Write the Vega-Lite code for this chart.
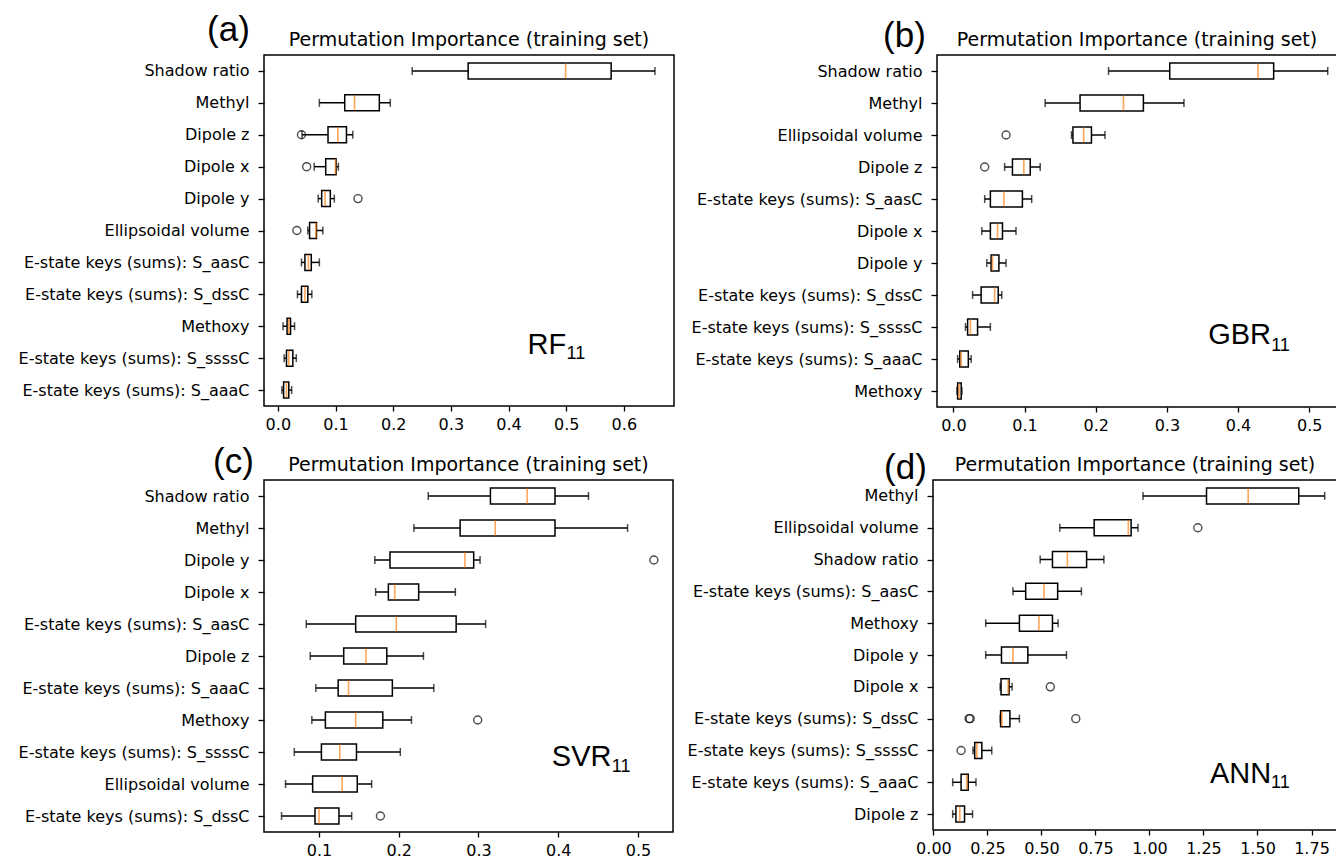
{
  "$schema": "https://vega.github.io/schema/vega-lite/v6.json",
  "padding": {"left": 17, "top": 11, "right": 0, "bottom": 0},
  "background": "white",
  "datasets": {
    "box": [
      {"model": "RF", "feature": "Shadow ratio", "lw": 0.233, "q1": 0.330, "med": 0.499, "q3": 0.578, "uw": 0.654},
      {"model": "RF", "feature": "Methyl", "lw": 0.072, "q1": 0.116, "med": 0.133, "q3": 0.176, "uw": 0.195},
      {"model": "RF", "feature": "Dipole z", "lw": 0.042, "q1": 0.087, "med": 0.104, "q3": 0.119, "uw": 0.130},
      {"model": "RF", "feature": "Dipole x", "lw": 0.063, "q1": 0.083, "med": 0.100, "q3": 0.101, "uw": 0.105},
      {"model": "RF", "feature": "Dipole y", "lw": 0.070, "q1": 0.076, "med": 0.082, "q3": 0.091, "uw": 0.098},
      {"model": "RF", "feature": "Ellipsoidal volume", "lw": 0.052, "q1": 0.055, "med": 0.066, "q3": 0.067, "uw": 0.078},
      {"model": "RF", "feature": "E-state keys (sums): S_aasC", "lw": 0.041, "q1": 0.047, "med": 0.053, "q3": 0.058, "uw": 0.072},
      {"model": "RF", "feature": "E-state keys (sums): S_dssC", "lw": 0.034, "q1": 0.041, "med": 0.047, "q3": 0.052, "uw": 0.059},
      {"model": "RF", "feature": "Methoxy", "lw": 0.009, "q1": 0.016, "med": 0.019, "q3": 0.022, "uw": 0.029},
      {"model": "RF", "feature": "E-state keys (sums): S_ssssC", "lw": 0.011, "q1": 0.015, "med": 0.019, "q3": 0.026, "uw": 0.032},
      {"model": "RF", "feature": "E-state keys (sums): S_aaaC", "lw": 0.007, "q1": 0.010, "med": 0.015, "q3": 0.019, "uw": 0.024},

      {"model": "GBR", "feature": "Shadow ratio", "lw": 0.218, "q1": 0.304, "med": 0.428, "q3": 0.450, "uw": 0.526},
      {"model": "GBR", "feature": "Methyl", "lw": 0.129, "q1": 0.178, "med": 0.239, "q3": 0.267, "uw": 0.324},
      {"model": "GBR", "feature": "Ellipsoidal volume", "lw": 0.166, "q1": 0.168, "med": 0.183, "q3": 0.194, "uw": 0.213},
      {"model": "GBR", "feature": "Dipole z", "lw": 0.072, "q1": 0.083, "med": 0.099, "q3": 0.108, "uw": 0.122},
      {"model": "GBR", "feature": "E-state keys (sums): S_aasC", "lw": 0.044, "q1": 0.052, "med": 0.071, "q3": 0.097, "uw": 0.110},
      {"model": "GBR", "feature": "Dipole x", "lw": 0.040, "q1": 0.052, "med": 0.062, "q3": 0.069, "uw": 0.088},
      {"model": "GBR", "feature": "Dipole y", "lw": 0.047, "q1": 0.053, "med": 0.055, "q3": 0.064, "uw": 0.074},
      {"model": "GBR", "feature": "E-state keys (sums): S_dssC", "lw": 0.027, "q1": 0.039, "med": 0.058, "q3": 0.063, "uw": 0.068},
      {"model": "GBR", "feature": "E-state keys (sums): S_ssssC", "lw": 0.017, "q1": 0.020, "med": 0.024, "q3": 0.034, "uw": 0.052},
      {"model": "GBR", "feature": "E-state keys (sums): S_aaaC", "lw": 0.006, "q1": 0.009, "med": 0.011, "q3": 0.021, "uw": 0.025},
      {"model": "GBR", "feature": "Methoxy", "lw": 0.005, "q1": 0.006, "med": 0.008, "q3": 0.011, "uw": 0.012},

      {"model": "SVR", "feature": "Shadow ratio", "lw": 0.237, "q1": 0.315, "med": 0.361, "q3": 0.396, "uw": 0.438},
      {"model": "SVR", "feature": "Methyl", "lw": 0.219, "q1": 0.277, "med": 0.321, "q3": 0.396, "uw": 0.487},
      {"model": "SVR", "feature": "Dipole y", "lw": 0.170, "q1": 0.189, "med": 0.283, "q3": 0.294, "uw": 0.302},
      {"model": "SVR", "feature": "Dipole x", "lw": 0.171, "q1": 0.187, "med": 0.195, "q3": 0.225, "uw": 0.271},
      {"model": "SVR", "feature": "E-state keys (sums): S_aasC", "lw": 0.084, "q1": 0.146, "med": 0.197, "q3": 0.272, "uw": 0.309},
      {"model": "SVR", "feature": "Dipole z", "lw": 0.089, "q1": 0.131, "med": 0.159, "q3": 0.185, "uw": 0.231},
      {"model": "SVR", "feature": "E-state keys (sums): S_aaaC", "lw": 0.096, "q1": 0.124, "med": 0.137, "q3": 0.192, "uw": 0.244},
      {"model": "SVR", "feature": "Methoxy", "lw": 0.091, "q1": 0.108, "med": 0.146, "q3": 0.180, "uw": 0.216},
      {"model": "SVR", "feature": "E-state keys (sums): S_ssssC", "lw": 0.069, "q1": 0.103, "med": 0.126, "q3": 0.147, "uw": 0.202},
      {"model": "SVR", "feature": "Ellipsoidal volume", "lw": 0.058, "q1": 0.092, "med": 0.129, "q3": 0.148, "uw": 0.166},
      {"model": "SVR", "feature": "E-state keys (sums): S_dssC", "lw": 0.053, "q1": 0.095, "med": 0.100, "q3": 0.125, "uw": 0.141},

      {"model": "ANN", "feature": "Methyl", "lw": 0.970, "q1": 1.264, "med": 1.457, "q3": 1.691, "uw": 1.811},
      {"model": "ANN", "feature": "Ellipsoidal volume", "lw": 0.585, "q1": 0.744, "med": 0.902, "q3": 0.915, "uw": 0.947},
      {"model": "ANN", "feature": "Shadow ratio", "lw": 0.494, "q1": 0.551, "med": 0.620, "q3": 0.709, "uw": 0.789},
      {"model": "ANN", "feature": "E-state keys (sums): S_aasC", "lw": 0.368, "q1": 0.427, "med": 0.512, "q3": 0.575, "uw": 0.685},
      {"model": "ANN", "feature": "Methoxy", "lw": 0.242, "q1": 0.398, "med": 0.488, "q3": 0.551, "uw": 0.577},
      {"model": "ANN", "feature": "Dipole y", "lw": 0.242, "q1": 0.315, "med": 0.368, "q3": 0.437, "uw": 0.616},
      {"model": "ANN", "feature": "Dipole x", "lw": 0.309, "q1": 0.313, "med": 0.346, "q3": 0.350, "uw": 0.364},
      {"model": "ANN", "feature": "E-state keys (sums): S_dssC", "lw": 0.309, "q1": 0.311, "med": 0.317, "q3": 0.354, "uw": 0.398},
      {"model": "ANN", "feature": "E-state keys (sums): S_ssssC", "lw": 0.183, "q1": 0.191, "med": 0.201, "q3": 0.224, "uw": 0.270},
      {"model": "ANN", "feature": "E-state keys (sums): S_aaaC", "lw": 0.089, "q1": 0.128, "med": 0.154, "q3": 0.161, "uw": 0.197},
      {"model": "ANN", "feature": "Dipole z", "lw": 0.089, "q1": 0.104, "med": 0.122, "q3": 0.144, "uw": 0.181}
    ],
    "out": [
      {"model": "RF", "feature": "Dipole z", "v": 0.041},
      {"model": "RF", "feature": "Dipole x", "v": 0.050},
      {"model": "RF", "feature": "Dipole y", "v": 0.139},
      {"model": "RF", "feature": "Ellipsoidal volume", "v": 0.033},
      {"model": "GBR", "feature": "Ellipsoidal volume", "v": 0.074},
      {"model": "GBR", "feature": "Dipole z", "v": 0.044},
      {"model": "SVR", "feature": "Dipole y", "v": 0.520},
      {"model": "SVR", "feature": "Methoxy", "v": 0.299},
      {"model": "SVR", "feature": "E-state keys (sums): S_dssC", "v": 0.177},
      {"model": "ANN", "feature": "Ellipsoidal volume", "v": 1.224},
      {"model": "ANN", "feature": "Dipole x", "v": 0.541},
      {"model": "ANN", "feature": "E-state keys (sums): S_dssC", "v": 0.165},
      {"model": "ANN", "feature": "E-state keys (sums): S_dssC", "v": 0.170},
      {"model": "ANN", "feature": "E-state keys (sums): S_dssC", "v": 0.659},
      {"model": "ANN", "feature": "E-state keys (sums): S_ssssC", "v": 0.128}
    ],
    "ann": [
      {"model": "RF", "feature": "E-state keys (sums): S_ssssC", "x": 0.433, "label": "RF", "sub": "11"},
      {"model": "GBR", "feature": "E-state keys (sums): S_ssssC", "x": 0.358, "label": "GBR", "sub": "11"},
      {"model": "SVR", "feature": "E-state keys (sums): S_ssssC", "x": 0.392, "label": "SVR", "sub": "11"},
      {"model": "ANN", "feature": "E-state keys (sums): S_aaaC", "x": 1.280, "label": "ANN", "sub": "11"}
    ]
  },
  "spacing": 9,
  "vconcat": [
    {
      "spacing": 15,
      "hconcat": [
        {
          "width": 410, "height": 351,
          "title": {"text": "Permutation Importance (training set)", "dy": 48},
          "encoding": {"y": {"field": "feature", "type": "nominal",
            "sort": ["Shadow ratio", "Methyl", "Dipole z", "Dipole x", "Dipole y", "Ellipsoidal volume", "E-state keys (sums): S_aasC", "E-state keys (sums): S_dssC", "Methoxy", "E-state keys (sums): S_ssssC", "E-state keys (sums): S_aaaC"],
            "scale": {"type": "point", "padding": 0.5},
            "axis": {"title": "(a)", "titleX": -36, "titleY": -15}}},
          "layer": [
            {"data": {"name": "box"}, "transform": [{"filter": "datum.model === 'RF'"}],
             "mark": {"type": "rule", "color": "black", "strokeWidth": 1.5},
             "encoding": {"x": {"field": "lw", "type": "quantitative", "scale": {"domain": [-0.024, 0.687], "nice": false, "zero": false}, "axis": {"title": null, "values": [0, 0.1, 0.2, 0.3, 0.4, 0.5, 0.6], "format": ".1f"}}, "x2": {"field": "uw"}}},
            {"data": {"name": "box"}, "transform": [{"filter": "datum.model === 'RF'"}],
             "mark": {"type": "tick", "orient": "vertical", "size": 8, "thickness": 1.5, "color": "black"},
             "encoding": {"x": {"field": "lw", "type": "quantitative"}}},
            {"data": {"name": "box"}, "transform": [{"filter": "datum.model === 'RF'"}],
             "mark": {"type": "tick", "orient": "vertical", "size": 8, "thickness": 1.5, "color": "black"},
             "encoding": {"x": {"field": "uw", "type": "quantitative"}}},
            {"data": {"name": "box"}, "transform": [{"filter": "datum.model === 'RF'"}],
             "mark": {"type": "bar", "size": 16, "fill": "white", "stroke": "black", "strokeWidth": 1.5},
             "encoding": {"x": {"field": "q1", "type": "quantitative"}, "x2": {"field": "q3"}}},
            {"data": {"name": "box"}, "transform": [{"filter": "datum.model === 'RF'"}],
             "mark": {"type": "tick", "orient": "vertical", "size": 15, "thickness": 1.6, "color": "#ff7f0e"},
             "encoding": {"x": {"field": "med", "type": "quantitative"}}},
            {"data": {"name": "out"}, "transform": [{"filter": "datum.model === 'RF'"}],
             "mark": {"type": "point", "shape": "circle", "filled": false, "stroke": "black", "strokeWidth": 1.4, "size": 64},
             "encoding": {"x": {"field": "v", "type": "quantitative"}}},
            {"data": {"name": "ann"}, "transform": [{"filter": "datum.model === 'RF'"}],
             "mark": {"type": "text", "font": "Liberation Sans", "fontSize": 29, "align": "left", "baseline": "alphabetic", "dy": -4, "color": "black"},
             "encoding": {"x": {"field": "x", "type": "quantitative"}, "text": {"field": "label"}}},
            {"data": {"name": "ann"}, "transform": [{"filter": "datum.model === 'RF'"}],
             "mark": {"type": "text", "font": "Liberation Sans", "fontSize": 18, "align": "left", "baseline": "alphabetic", "dx": 39, "dy": 1, "color": "black"},
             "encoding": {"x": {"field": "x", "type": "quantitative"}, "text": {"field": "sub"}}}
          ]
        },
        {
          "width": 400, "height": 352,
          "title": {"text": "Permutation Importance (training set)", "dy": 42},
          "encoding": {"y": {"field": "feature", "type": "nominal",
            "sort": ["Shadow ratio", "Methyl", "Ellipsoidal volume", "Dipole z", "E-state keys (sums): S_aasC", "Dipole x", "Dipole y", "E-state keys (sums): S_dssC", "E-state keys (sums): S_ssssC", "E-state keys (sums): S_aaaC", "Methoxy"],
            "scale": {"type": "point", "padding": 0.5},
            "axis": {"title": "(b)", "titleX": -33, "titleY": -9}}},
          "layer": [
            {"data": {"name": "box"}, "transform": [{"filter": "datum.model === 'GBR'"}],
             "mark": {"type": "rule", "color": "black", "strokeWidth": 1.5},
             "encoding": {"x": {"field": "lw", "type": "quantitative", "scale": {"domain": [-0.023, 0.539], "nice": false, "zero": false}, "axis": {"title": null, "values": [0, 0.1, 0.2, 0.3, 0.4, 0.5], "format": ".1f"}}, "x2": {"field": "uw"}}},
            {"data": {"name": "box"}, "transform": [{"filter": "datum.model === 'GBR'"}],
             "mark": {"type": "tick", "orient": "vertical", "size": 8, "thickness": 1.5, "color": "black"},
             "encoding": {"x": {"field": "lw", "type": "quantitative"}}},
            {"data": {"name": "box"}, "transform": [{"filter": "datum.model === 'GBR'"}],
             "mark": {"type": "tick", "orient": "vertical", "size": 8, "thickness": 1.5, "color": "black"},
             "encoding": {"x": {"field": "uw", "type": "quantitative"}}},
            {"data": {"name": "box"}, "transform": [{"filter": "datum.model === 'GBR'"}],
             "mark": {"type": "bar", "size": 16, "fill": "white", "stroke": "black", "strokeWidth": 1.5},
             "encoding": {"x": {"field": "q1", "type": "quantitative"}, "x2": {"field": "q3"}}},
            {"data": {"name": "box"}, "transform": [{"filter": "datum.model === 'GBR'"}],
             "mark": {"type": "tick", "orient": "vertical", "size": 15, "thickness": 1.6, "color": "#ff7f0e"},
             "encoding": {"x": {"field": "med", "type": "quantitative"}}},
            {"data": {"name": "out"}, "transform": [{"filter": "datum.model === 'GBR'"}],
             "mark": {"type": "point", "shape": "circle", "filled": false, "stroke": "black", "strokeWidth": 1.4, "size": 64},
             "encoding": {"x": {"field": "v", "type": "quantitative"}}},
            {"data": {"name": "ann"}, "transform": [{"filter": "datum.model === 'GBR'"}],
             "mark": {"type": "text", "font": "Liberation Sans", "fontSize": 29, "align": "left", "baseline": "alphabetic", "dy": 17, "color": "black"},
             "encoding": {"x": {"field": "x", "type": "quantitative"}, "text": {"field": "label"}}},
            {"data": {"name": "ann"}, "transform": [{"filter": "datum.model === 'GBR'"}],
             "mark": {"type": "text", "font": "Liberation Sans", "fontSize": 18, "align": "left", "baseline": "alphabetic", "dx": 63, "dy": 24, "color": "black"},
             "encoding": {"x": {"field": "x", "type": "quantitative"}, "text": {"field": "sub"}}}
          ]
        }
      ]
    },
    {
      "spacing": 12,
      "hconcat": [
        {
          "width": 409, "height": 352,
          "title": {"text": "Permutation Importance (training set)", "dy": 41},
          "encoding": {"y": {"field": "feature", "type": "nominal",
            "sort": ["Shadow ratio", "Methyl", "Dipole y", "Dipole x", "E-state keys (sums): S_aasC", "Dipole z", "E-state keys (sums): S_aaaC", "Methoxy", "E-state keys (sums): S_ssssC", "Ellipsoidal volume", "E-state keys (sums): S_dssC"],
            "scale": {"type": "point", "padding": 0.5},
            "axis": {"title": "(c)", "titleX": -31, "titleY": -8}}},
          "layer": [
            {"data": {"name": "box"}, "transform": [{"filter": "datum.model === 'SVR'"}],
             "mark": {"type": "rule", "color": "black", "strokeWidth": 1.5},
             "encoding": {"x": {"field": "lw", "type": "quantitative", "scale": {"domain": [0.031, 0.544], "nice": false, "zero": false}, "axis": {"title": null, "values": [0.1, 0.2, 0.3, 0.4, 0.5], "format": ".1f"}}, "x2": {"field": "uw"}}},
            {"data": {"name": "box"}, "transform": [{"filter": "datum.model === 'SVR'"}],
             "mark": {"type": "tick", "orient": "vertical", "size": 8, "thickness": 1.5, "color": "black"},
             "encoding": {"x": {"field": "lw", "type": "quantitative"}}},
            {"data": {"name": "box"}, "transform": [{"filter": "datum.model === 'SVR'"}],
             "mark": {"type": "tick", "orient": "vertical", "size": 8, "thickness": 1.5, "color": "black"},
             "encoding": {"x": {"field": "uw", "type": "quantitative"}}},
            {"data": {"name": "box"}, "transform": [{"filter": "datum.model === 'SVR'"}],
             "mark": {"type": "bar", "size": 16, "fill": "white", "stroke": "black", "strokeWidth": 1.5},
             "encoding": {"x": {"field": "q1", "type": "quantitative"}, "x2": {"field": "q3"}}},
            {"data": {"name": "box"}, "transform": [{"filter": "datum.model === 'SVR'"}],
             "mark": {"type": "tick", "orient": "vertical", "size": 15, "thickness": 1.6, "color": "#ff7f0e"},
             "encoding": {"x": {"field": "med", "type": "quantitative"}}},
            {"data": {"name": "out"}, "transform": [{"filter": "datum.model === 'SVR'"}],
             "mark": {"type": "point", "shape": "circle", "filled": false, "stroke": "black", "strokeWidth": 1.4, "size": 64},
             "encoding": {"x": {"field": "v", "type": "quantitative"}}},
            {"data": {"name": "ann"}, "transform": [{"filter": "datum.model === 'SVR'"}],
             "mark": {"type": "text", "font": "Liberation Sans", "fontSize": 29, "align": "left", "baseline": "alphabetic", "dy": 14, "color": "black"},
             "encoding": {"x": {"field": "x", "type": "quantitative"}, "text": {"field": "label"}}},
            {"data": {"name": "ann"}, "transform": [{"filter": "datum.model === 'SVR'"}],
             "mark": {"type": "text", "font": "Liberation Sans", "fontSize": 18, "align": "left", "baseline": "alphabetic", "dx": 60, "dy": 20, "color": "black"},
             "encoding": {"x": {"field": "x", "type": "quantitative"}, "text": {"field": "sub"}}}
          ]
        },
        {
          "width": 404, "height": 350,
          "title": {"text": "Permutation Importance (training set)", "dy": 35},
          "encoding": {"y": {"field": "feature", "type": "nominal",
            "sort": ["Methyl", "Ellipsoidal volume", "Shadow ratio", "E-state keys (sums): S_aasC", "Methoxy", "Dipole y", "Dipole x", "E-state keys (sums): S_dssC", "E-state keys (sums): S_ssssC", "E-state keys (sums): S_aaaC", "Dipole z"],
            "scale": {"type": "point", "padding": 0.5},
            "axis": {"title": "(d)", "titleX": -28, "titleY": -2}}},
          "layer": [
            {"data": {"name": "box"}, "transform": [{"filter": "datum.model === 'ANN'"}],
             "mark": {"type": "rule", "color": "black", "strokeWidth": 1.5},
             "encoding": {"x": {"field": "lw", "type": "quantitative", "scale": {"domain": [-0.002, 1.868], "nice": false, "zero": false}, "axis": {"title": null, "values": [0, 0.25, 0.5, 0.75, 1.0, 1.25, 1.5, 1.75], "format": ".2f"}}, "x2": {"field": "uw"}}},
            {"data": {"name": "box"}, "transform": [{"filter": "datum.model === 'ANN'"}],
             "mark": {"type": "tick", "orient": "vertical", "size": 8, "thickness": 1.5, "color": "black"},
             "encoding": {"x": {"field": "lw", "type": "quantitative"}}},
            {"data": {"name": "box"}, "transform": [{"filter": "datum.model === 'ANN'"}],
             "mark": {"type": "tick", "orient": "vertical", "size": 8, "thickness": 1.5, "color": "black"},
             "encoding": {"x": {"field": "uw", "type": "quantitative"}}},
            {"data": {"name": "box"}, "transform": [{"filter": "datum.model === 'ANN'"}],
             "mark": {"type": "bar", "size": 16, "fill": "white", "stroke": "black", "strokeWidth": 1.5},
             "encoding": {"x": {"field": "q1", "type": "quantitative"}, "x2": {"field": "q3"}}},
            {"data": {"name": "box"}, "transform": [{"filter": "datum.model === 'ANN'"}],
             "mark": {"type": "tick", "orient": "vertical", "size": 15, "thickness": 1.6, "color": "#ff7f0e"},
             "encoding": {"x": {"field": "med", "type": "quantitative"}}},
            {"data": {"name": "out"}, "transform": [{"filter": "datum.model === 'ANN'"}],
             "mark": {"type": "point", "shape": "circle", "filled": false, "stroke": "black", "strokeWidth": 1.4, "size": 64},
             "encoding": {"x": {"field": "v", "type": "quantitative"}}},
            {"data": {"name": "ann"}, "transform": [{"filter": "datum.model === 'ANN'"}],
             "mark": {"type": "text", "font": "Liberation Sans", "fontSize": 29, "align": "left", "baseline": "alphabetic", "dy": 1, "color": "black"},
             "encoding": {"x": {"field": "x", "type": "quantitative"}, "text": {"field": "label"}}},
            {"data": {"name": "ann"}, "transform": [{"filter": "datum.model === 'ANN'"}],
             "mark": {"type": "text", "font": "Liberation Sans", "fontSize": 18, "align": "left", "baseline": "alphabetic", "dx": 61, "dy": 6, "color": "black"},
             "encoding": {"x": {"field": "x", "type": "quantitative"}, "text": {"field": "sub"}}}
          ]
        }
      ]
    }
  ],
  "config": {
    "font": "DejaVu Sans",
    "view": {"stroke": "black", "strokeWidth": 1.5},
    "axis": {"grid": false, "domain": false, "ticks": true, "tickColor": "black", "tickWidth": 1.3, "tickSize": 6,
             "labelFont": "DejaVu Sans", "labelFontSize": 16, "labelColor": "black", "labelLimit": 500,
             "titleFont": "Liberation Sans", "titleFontSize": 35, "titleFontWeight": "normal", "titleColor": "black"},
    "axisY": {"labelPadding": 9, "titleAngle": 0, "titleAlign": "center", "titleBaseline": "alphabetic"},
    "axisX": {"labelPadding": 5, "tickSize": 5, "labelFlush": false, "labelOverlap": false},
    "title": {"font": "DejaVu Sans", "fontSize": 19, "fontWeight": "normal", "color": "black", "anchor": "middle", "frame": "group", "baseline": "alphabetic", "offset": 10}
  }
}
